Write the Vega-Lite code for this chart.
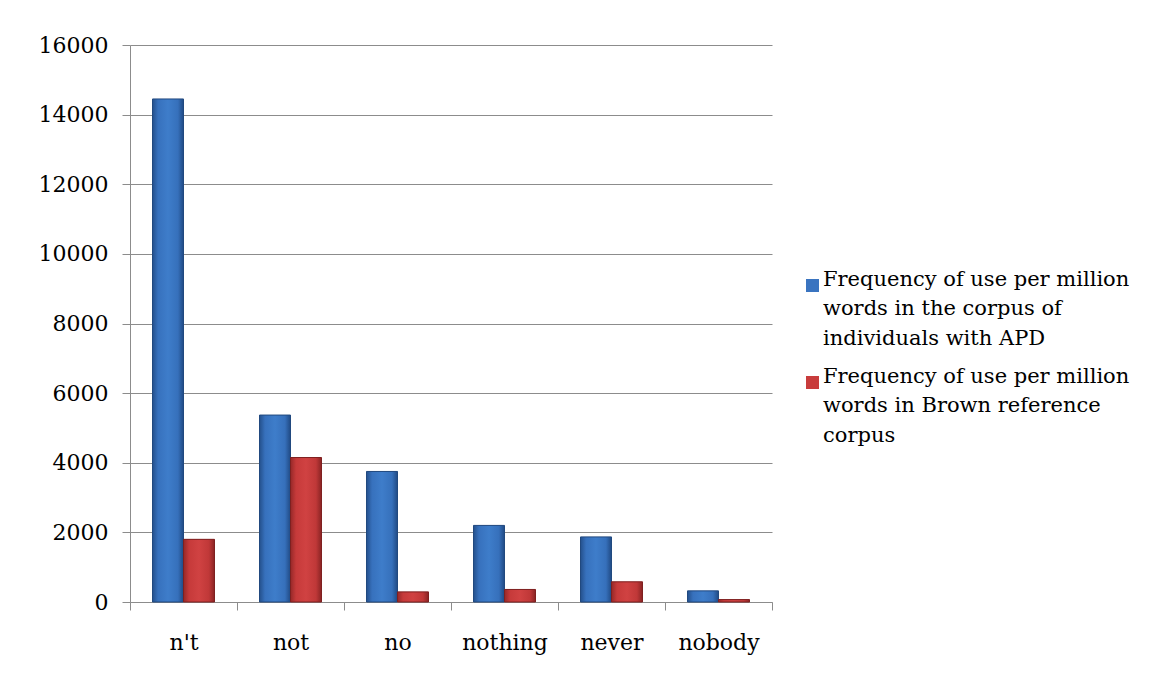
{
  "$schema": "https://vega.github.io/schema/vega-lite/v6.json",
  "autosize": "none",
  "width": 642,
  "height": 557,
  "padding": {"left": 130, "top": 45, "right": 383, "bottom": 75},
  "background": "white",
  "data": {
    "values": [
      {"word": "n't", "series": "APD", "freq": 14450},
      {"word": "n't", "series": "Brown", "freq": 1800},
      {"word": "not", "series": "APD", "freq": 5370},
      {"word": "not", "series": "Brown", "freq": 4150},
      {"word": "no", "series": "APD", "freq": 3750},
      {"word": "no", "series": "Brown", "freq": 290},
      {"word": "nothing", "series": "APD", "freq": 2200},
      {"word": "nothing", "series": "Brown", "freq": 360},
      {"word": "never", "series": "APD", "freq": 1870},
      {"word": "never", "series": "Brown", "freq": 580},
      {"word": "nobody", "series": "APD", "freq": 320},
      {"word": "nobody", "series": "Brown", "freq": 70}
    ]
  },
  "encoding": {
    "x": {
      "field": "word",
      "type": "nominal",
      "sort": ["n't", "not", "no", "nothing", "never", "nobody"],
      "scale": {"paddingInner": 0, "paddingOuter": 0},
      "axis": {
        "title": null,
        "labelAngle": 0,
        "tickBand": "extent",
        "labelPadding": 39,
        "labelBaseline": "alphabetic"
      }
    },
    "xOffset": {
      "field": "series",
      "type": "nominal",
      "scale": {"domain": ["APD", "Brown"], "paddingInner": 0, "paddingOuter": 0.726}
    },
    "y": {
      "field": "freq",
      "type": "quantitative",
      "scale": {"domain": [0, 16000], "nice": false},
      "axis": {
        "title": null,
        "values": [0, 2000, 4000, 6000, 8000, 10000, 12000, 14000, 16000],
        "format": "d",
        "grid": true,
        "labelPadding": 14
      }
    }
  },
  "layer": [
    {
      "mark": {"type": "bar"},
      "encoding": {
        "color": {
          "field": "series",
          "type": "nominal",
          "scale": {"domain": ["APD", "Brown"], "range": ["#3a74c0", "#c83c3c"]},
          "legend": {
            "title": null,
            "orient": "none",
            "legendX": 672,
            "legendY": 230,
            "symbolType": "square",
            "symbolSize": 169,
            "symbolStrokeWidth": 0,
            "labelOffset": 0,
            "labelFont": "DejaVu Serif",
            "labelFontSize": 21,
            "labelColor": "black",
            "labelLimit": 400,
            "labelBaseline": "alphabetic",
            "rowPadding": 16,
            "labelExpr": "datum.value == 'APD' ? ['Frequency of use per million', 'words in the corpus of', 'individuals with APD'] : ['Frequency of use per million', 'words in Brown reference', 'corpus']"
          }
        }
      }
    },
    {
      "transform": [{"filter": "datum.series == 'APD'"}],
      "mark": {
        "type": "bar",
        "stroke": "#21497f",
        "strokeWidth": 1,
        "fill": {
          "gradient": "linear",
          "x1": 0, "x2": 1, "y1": 0, "y2": 0,
          "stops": [
            {"offset": 0, "color": "#24508c"},
            {"offset": 0.18, "color": "#3771bd"},
            {"offset": 0.5, "color": "#3e7dca"},
            {"offset": 0.82, "color": "#3670bb"},
            {"offset": 1, "color": "#204a84"}
          ]
        }
      }
    },
    {
      "transform": [{"filter": "datum.series == 'Brown'"}],
      "mark": {
        "type": "bar",
        "stroke": "#7e2020",
        "strokeWidth": 1,
        "fill": {
          "gradient": "linear",
          "x1": 0, "x2": 1, "y1": 0, "y2": 0,
          "stops": [
            {"offset": 0, "color": "#962828"},
            {"offset": 0.18, "color": "#c63a3a"},
            {"offset": 0.5, "color": "#d04242"},
            {"offset": 0.82, "color": "#c03838"},
            {"offset": 1, "color": "#8a2424"}
          ]
        }
      }
    }
  ],
  "config": {
    "view": {"stroke": null},
    "style": {"guide-label": {"lineHeight": 29.5}},
    "axis": {
      "labelFont": "DejaVu Serif",
      "labelFontSize": 22,
      "labelColor": "black",
      "domainColor": "#8c8c8c",
      "tickColor": "#8c8c8c",
      "gridColor": "#8c8c8c",
      "tickSize": 8,
      "domainWidth": 1,
      "tickWidth": 1,
      "gridWidth": 1
    }
  }
}
